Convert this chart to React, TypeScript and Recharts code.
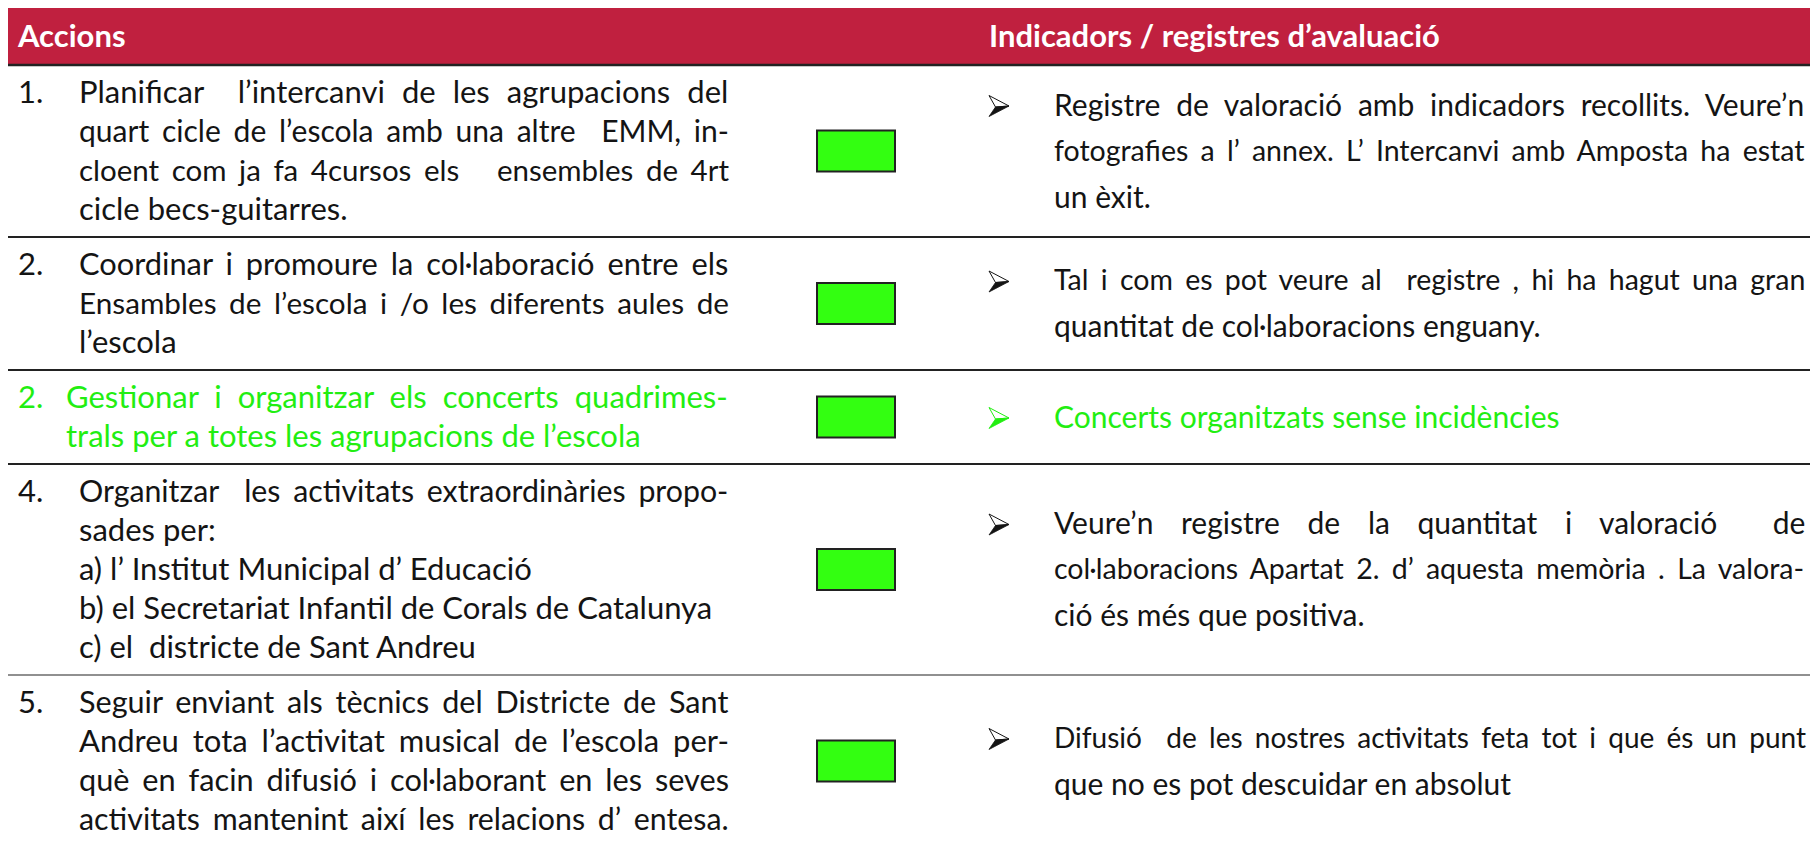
import React from 'react';
import { ScatterChart, Scatter, XAxis, YAxis, ReferenceArea, ReferenceLine } from 'recharts';

// ---------- data ----------
const HEADERS = ['Accions', 'Indicadors / registres d’avaluació'];
const ACTION_NUMBERS = ['1.', '2.', '2.', '4.', '5.'];
const ACTION_LINES: string[][] = [
  [
    'Planificar  l’intercanvi de les agrupacions del',
    'quart cicle de l’escola amb una altre  EMM, in-',
    'cloent com ja fa 4cursos els   ensembles de 4rt',
    'cicle becs-guitarres.',
  ],
  [
    'Coordinar i promoure la col·laboració entre els',
    'Ensambles de l’escola i /o les diferents aules de',
    'l’escola',
  ],
  [
    'Gestionar i organitzar els concerts quadrimes-',
    'trals per a totes les agrupacions de l’escola',
  ],
  [
    'Organitzar  les activitats extraordinàries propo-',
    'sades per:',
    'a) l’ Institut Municipal d’ Educació',
    'b) el Secretariat Infantil de Corals de Catalunya',
    'c) el  districte de Sant Andreu',
  ],
  [
    'Seguir enviant als tècnics del Districte de Sant',
    'Andreu tota l’activitat musical de l’escola per-',
    'què en facin difusió i col·laborant en les seves',
    'activitats mantenint així les relacions d’ entesa.',
  ],
];
const ACTION_JUSTIFIED = [3, 2, 1, 1, 4];
const INDICATOR_LINES: string[][] = [
  [
    'Registre de valoració amb indicadors recollits. Veure’n',
    'fotografies a l’ annex. L’ Intercanvi amb Amposta ha estat',
    'un èxit.',
  ],
  [
    'Tal i com es pot veure al  registre , hi ha hagut una gran',
    'quantitat de col·laboracions enguany.',
  ],
  ['Concerts organitzats sense incidències'],
  [
    'Veure’n registre de la quantitat i valoració  de',
    'col·laboracions Apartat 2. d’ aquesta memòria . La valora-',
    'ció és més que positiva.',
  ],
  [
    'Difusió  de les nostres activitats feta tot i que és un punt',
    'que no es pot descuidar en absolut',
  ],
];
const INDICATOR_JUSTIFIED = [2, 1, 0, 2, 1];
const STATUS = ['assolit', 'assolit', 'assolit', 'assolit', 'assolit'];
const HIGHLIGHTED = [false, false, true, false, false];

// ---------- styles / layout ----------
const W = 1810;
const H = 837;
const HEADER_H = 57;
const LINE_H = 39;
const IND_LINE_H = 46;
const ROW_PAD = 16;
const FONT = 'Lato';
const ACTION_FONT_SIZE = 31;
const IND_FONT_SIZE = 30;
const HEADER_FONT_SIZE = 31;
const MIN_GAP = 5;
const NUM_X = 10;
const TEXT_X = 71;
const HL_TEXT_X = 58;
const TEXT_RIGHT = 721;
const BOX_CX = 848;
const BOX_W = 78;
const BOX_H = 41;
const BULLET_X = 981;
const IND_X = 1046;
const IND_RIGHT = 1798;
const HEADER_RIGHT_X = 981;
const RED = '#C0203F';
const INK = '#141414';
const BRIGHT = '#22EE11';
const STATUS_COLOR: Record<string, string> = { assolit: '#33FF11' };

// ---------- derived tables ----------
type Row = { top: number; bottom: number; center: number };
const rows: Row[] = [];
{
  let top = HEADER_H;
  ACTION_LINES.forEach((lines) => {
    const h = lines.length * LINE_H + ROW_PAD;
    rows.push({ top, bottom: top + h, center: top + h / 2 });
    top += h;
  });
}

type TextItem = {
  x: number;
  y: number;
  text: string;
  width: number | null;
  color: string;
  bold: boolean;
  size: number;
};
const textData: TextItem[] = [];
HEADERS.forEach((h, i) =>
  textData.push({
    x: i === 0 ? NUM_X : HEADER_RIGHT_X,
    y: HEADER_H / 2,
    text: h,
    width: null,
    color: '#ffffff',
    bold: true,
    size: HEADER_FONT_SIZE,
  })
);
ACTION_LINES.forEach((lines, r) => {
  const color = HIGHLIGHTED[r] ? BRIGHT : INK;
  const startX = HIGHLIGHTED[r] ? HL_TEXT_X : TEXT_X;
  const first = rows[r].center - ((lines.length - 1) * LINE_H) / 2;
  textData.push({ x: NUM_X, y: first, text: ACTION_NUMBERS[r], width: null, color, bold: false, size: ACTION_FONT_SIZE });
  lines.forEach((t, i) =>
    textData.push({
      x: startX,
      y: first + i * LINE_H,
      text: t,
      width: i < ACTION_JUSTIFIED[r] ? TEXT_RIGHT - startX : null,
      color,
      bold: false,
      size: ACTION_FONT_SIZE,
    })
  );
});
const bulletData: { x: number; y: number; color: string }[] = [];
INDICATOR_LINES.forEach((lines, r) => {
  const color = HIGHLIGHTED[r] ? BRIGHT : INK;
  const first = rows[r].center - ((lines.length - 1) * IND_LINE_H) / 2;
  bulletData.push({ x: BULLET_X, y: first, color });
  lines.forEach((t, i) =>
    textData.push({
      x: IND_X,
      y: first + i * IND_LINE_H,
      text: t,
      width: i < INDICATOR_JUSTIFIED[r] ? IND_RIGHT - IND_X : null,
      color,
      bold: false,
      size: IND_FONT_SIZE,
    })
  );
});
const boxData = STATUS.map((s, r) => ({ x: BOX_CX, y: rows[r].center, status: s }));
const separators = [HEADER_H, ...rows.map((r) => r.bottom)];

// ---------- helpers ----------
let ctx: CanvasRenderingContext2D | null = null;
function measure(text: string, font: string): number {
  if (!ctx) ctx = document.createElement('canvas').getContext('2d');
  if (!ctx) return 0;
  ctx.font = font;
  return ctx.measureText(text).width;
}

const TextShape = (props: any) => {
  const { cx, cy, payload } = props;
  const p = payload as TextItem;
  const weight = p.bold ? 'bold ' : '';
  let size = p.size;
  let ws = 0;
  if (p.width) {
    const spaces = (p.text.match(/ /g) || []).length;
    if (spaces > 0) {
      let natural = measure(p.text, `${weight}${size}px ${FONT}`);
      ws = (p.width - natural) / spaces;
      if (ws < MIN_GAP) {
        // shrink this line a little so that it fits with normal gaps
        size = (size * (p.width - spaces * MIN_GAP)) / natural;
        natural = measure(p.text, `${weight}${size}px ${FONT}`);
        ws = (p.width - natural) / spaces;
      }
    }
  }
  return (
    <text
      x={cx}
      y={cy}
      dy="0.35em"
      fill={p.color}
      fontFamily={FONT}
      fontSize={size}
      fontWeight={p.bold ? 700 : 400}
      style={{ whiteSpace: 'pre', wordSpacing: `${ws}px` }}
    >
      {p.text}
    </text>
  );
};

const BoxShape = (props: any) => {
  const { cx, cy, payload } = props;
  return (
    <rect
      x={cx - BOX_W / 2}
      y={cy - BOX_H / 2}
      width={BOX_W}
      height={BOX_H}
      fill={STATUS_COLOR[payload.status]}
      stroke="#222"
      strokeWidth={2}
    />
  );
};

// 3-D arrowhead list marker
const BulletShape = (props: any) => {
  const { cx, cy, payload } = props;
  const c = payload.color;
  const x = cx;
  const y = cy + 1;
  return (
    <g>
      <path d={`M${x},${y - 10.5} L${x + 20},${y} L${x + 6.5},${y + 1} Z`} fill="#fff" stroke={c} strokeWidth={1} />
      <path d={`M${x + 20},${y} L${x},${y + 10.5} L${x + 6.5},${y + 1} Z`} fill={c} stroke={c} strokeWidth={0.8} />
    </g>
  );
};

export default function App() {
  return (
    <div style={{ width: W, height: H }}>
      <style>{'body{overflow:hidden;}'}</style>
      <ScatterChart width={W} height={H} margin={{ top: 0, right: 0, bottom: 0, left: 0 }}>
        <XAxis type="number" dataKey="x" domain={[0, W]} hide />
        <YAxis type="number" dataKey="y" domain={[0, H]} reversed hide />
        <ReferenceArea x1={0} x2={W} y1={0} y2={HEADER_H} fill={RED} fillOpacity={1} stroke="none" />
        {separators.map((y, i) => (
          <ReferenceLine key={i} y={y} stroke="#222" strokeWidth={i === 0 ? 2.6 : i === 4 ? 1.2 : 2.2} />
        ))}
        <Scatter data={boxData} shape={BoxShape} isAnimationActive={false} />
        <Scatter data={bulletData} shape={BulletShape} isAnimationActive={false} />
        <Scatter data={textData} shape={TextShape} isAnimationActive={false} />
      </ScatterChart>
    </div>
  );
}
